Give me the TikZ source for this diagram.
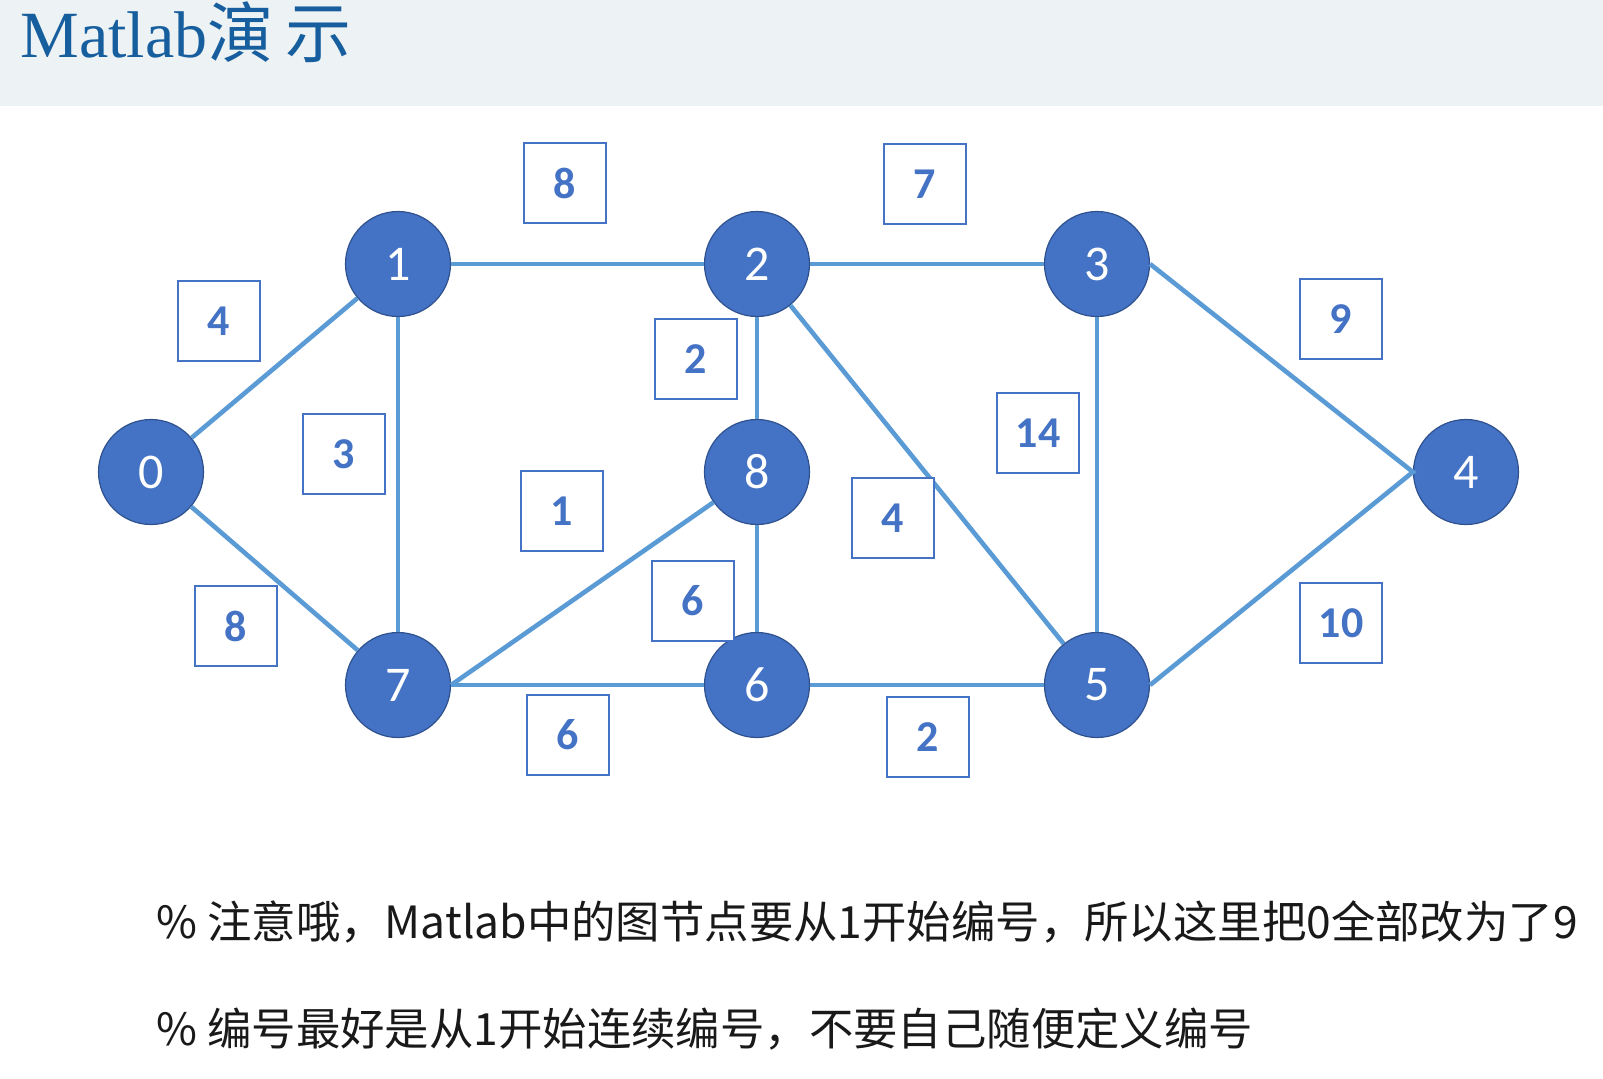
\documentclass[tikz,border=0pt]{standalone}
\usepackage{fontspec}
\setmainfont{Carlito}
\newfontfamily\cjk{Noto Sans CJK SC}
\newfontfamily\titleserif{Liberation Serif}
\usetikzlibrary{positioning}
\definecolor{nodeblue}{RGB}{68,114,196}
\definecolor{nodeedge}{RGB}{47,82,143}
\definecolor{linkblue}{RGB}{91,155,213}
\definecolor{titleblue}{RGB}{22,94,158}
\definecolor{barfill}{RGB}{237,242,244}

\begin{document}
\begin{tikzpicture}[x=0.5pt,y=-0.5pt,
    vertex/.style={circle,fill=nodeblue,draw=nodeedge,line width=0.6pt,minimum size=52.5pt,inner sep=0pt,text=white,font=\fontsize{25}{25}\selectfont},
    link/.style={linkblue,line width=2.3pt},
    weight/.style={draw=nodeblue,line width=0.7pt,fill=white,minimum width=41pt,minimum height=40pt,inner sep=0pt,text=nodeblue,font=\fontsize{22}{22}\selectfont\bfseries},
    note/.style={anchor=west,inner sep=0pt,text=black!90,font=\cjk\fontsize{22.2}{22.2}\selectfont}]
    \useasboundingbox (0,0) rectangle (1603,1078);
    \fill[barfill] (0,0) rectangle (1603,106);
    \node[anchor=base west,inner sep=0pt,text=titleblue,font=\fontsize{33}{33}\selectfont] (title) at (20,57) {\titleserif Matlab\cjk 演\hspace{6pt}示};
    % vertices
    \node[vertex] (v0) at (151,472) {0};
    \node[vertex] (v1) at (398,264) {1};
    \node[vertex] (v2) at (757,264) {2};
    \node[vertex] (v3) at (1097,264) {3};
    \node[vertex] (v4) at (1466,472) {4};
    \node[vertex] (v5) at (1097,685) {5};
    \node[vertex] (v6) at (757,685) {6};
    \node[vertex] (v7) at (398,685) {7};
    \node[vertex] (v8) at (757,472) {8};
    \foreach \a/\b in {0/1,0/7,1/2,1/7,2/3,2/8,2/5,3/5,8/6,7/6,6/5}
      \draw[link] (v\a) -- (v\b);
    \draw[link] (v7.east) -- (v8);
    \draw[link] (v3.east) -- (v4.west) -- (v5.east);
    % weights
    \node[weight] (w12) at (565,183) {8};
    \node[weight] (w23) at (925,184) {7};
    \node[weight] (w01) at (219,321) {4};
    \node[weight] (w17) at (344,454) {3};
    \node[weight] (w28) at (696,359) {2};
    \node[weight] (w87) at (562,511) {1};
    \node[weight] (w35) at (1038,433) {14};
    \node[weight] (w25) at (893,518) {4};
    \node[weight] (w34) at (1341,319) {9};
    \node[weight] (w07) at (236,626) {8};
    \node[weight] (w86) at (693,601) {6};
    \node[weight] (w76) at (568,735) {6};
    \node[weight] (w65) at (928,737) {2};
    \node[weight] (w45) at (1341,623) {10};
    % notes
    \node[note] (n1) at (156,922) {\% 注意哦，Matlab中的图节点要从1开始编号，所以这里把0全部改为了9};
    \node[note] (n2) at (156,1029) {\% 编号最好是从1开始连续编号，不要自己随便定义编号};
\end{tikzpicture}
\end{document}
